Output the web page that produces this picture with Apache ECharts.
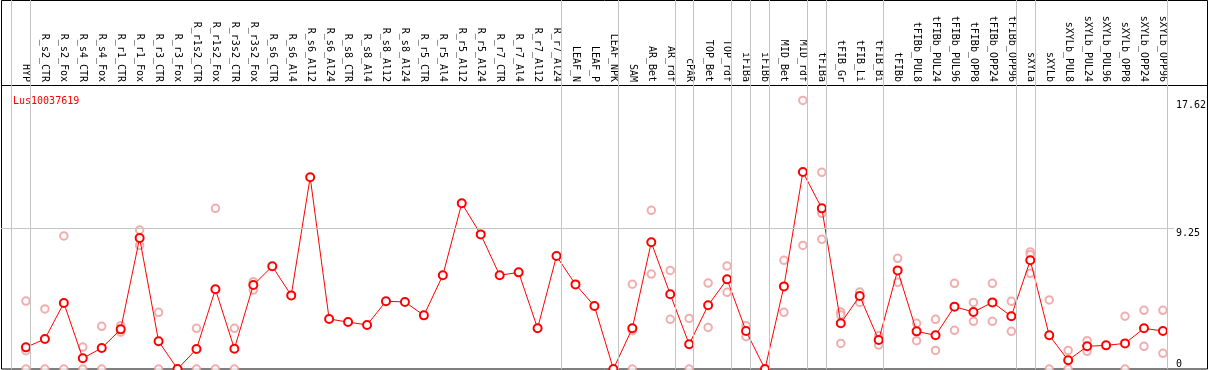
<!DOCTYPE html>
<html>
<head>
<meta charset="utf-8">
<script src="https://cdn.jsdelivr.net/npm/echarts@6/dist/echarts.min.js"></script>
<style>
html,body{margin:0;padding:0;background:#fff;}
#chart{width:1209px;height:370px;}
</style>
</head>
<body>
<div id="chart"></div>
<script>
const categories = ["HYP","R_s2_CTR","R_s2_Fox","R_s4_CTR","R_s4_Fox","R_r1_CTR","R_r1_Fox","R_r3_CTR","R_r3_Fox","R_r1s2_CTR","R_r1s2_Fox","R_r3s2_CTR","R_r3s2_Fox","R_s6_CTR","R_s6_Al4","R_s6_Al12","R_s6_Al24","R_s8_CTR","R_s8_Al4","R_s8_Al12","R_s8_Al24","R_r5_CTR","R_r5_Al4","R_r5_Al12","R_r5_Al24","R_r7_CTR","R_r7_Al4","R_r7_Al12","R_r7_Al24","LEAF_N","LEAF_P","LEAF_NPK","SAM","AR_Bet","AR_rdf","cPAR","TOP_Bet","TOP_rdf","iFIBa","iFIBb","MID_Bet","MID_rdf","tFIBa","tFIB_Gr","tFIB_Li","tFIB_Bi","tFIBb","tFIBb_PUL8","tFIBb_PUL24","tFIBb_PUL96","tFIBb_OPP8","tFIBb_OPP24","tFIBb_OPP96","sXYLa","sXYLb","sXYLb_PUL8","sXYLb_PUL24","sXYLb_PUL96","sXYLb_OPP8","sXYLb_OPP24","sXYLb_OPP96"];

const meanValues = [1.42,1.97,4.33,0.70,1.38,2.60,8.59,1.82,0,1.31,5.23,1.33,5.51,6.74,4.83,12.58,3.28,3.08,2.89,4.44,4.40,3.52,6.15,10.87,8.83,6.15,6.34,2.67,7.41,5.55,4.13,0,2.67,8.31,4.90,1.62,4.18,5.88,2.49,0,5.42,12.92,10.54,3.00,4.79,1.90,6.47,2.47,2.21,4.09,3.74,4.37,3.46,7.13,2.21,0.57,1.49,1.55,1.68,2.67,2.49];

const replicateValues = [
  [4.46,1.2,0],[3.94,0],[8.73,0],[1.44,0],[2.80,0],[2.84,2.41],[9.12,8.11],[3.72,0],[0],[2.67,0],[10.54,0],[2.67,0],[5.73,5.18],
  [],[],[],[],[],[],[],[],[],[],[],[],[],[],[],[],
  [],[],[],
  [5.56,2.51,0],[10.41,6.23],[6.47,3.26],[3.32,0],[5.64,2.73],[6.76,5.03],[2.84,2.12],[],[7.13,3.72],[17.62,8.11],
  [12.90,10.21,8.51],[3.74,3.54,1.68],[5.05,4.37],[2.19,1.57],[7.26,5.69],[3.00,1.86],[3.26,1.22],[5.62,2.54],[4.37,3.13],[5.62,3.13],[4.44,2.47],
  [7.68,7.50,6.28],[4.53,0],[1.22,0],[1.86,1.16],[],[3.46,0],[3.85,1.49],[3.85,1.03]
];

// sizes of the sample groups separated by vertical lines
const groupSizes = [1,28,3,3,1,2,1,1,2,1,3,7,1,7];
const yTickValues = [0, 9.25, 17.62];
const gridLineValue = 9.25;
const geneName = "Lus10037619";

// ---- build ----
const SEP_OFFSET = 4.5/19;
const separators = [-1 + SEP_OFFSET];
let acc = 0;
groupSizes.forEach(s => { acc += s; separators.push(acc - 1 + SEP_OFFSET); });

const mainData = meanValues.map((v,i) => [i, v]);
const repData = [];
replicateValues.forEach((arr,i) => arr.forEach(v => repData.push([i, v])));
const idx = categories.map((c,i) => i);

const xMin = -25/19, xMax = 1151/19;
const mono = "DejaVu Sans Mono";

const chart = echarts.init(document.getElementById('chart'), null, {renderer:'canvas'});
chart.setOption({
  animation: false,
  backgroundColor: '#fff',
  title: {
    text: geneName, left: 8, top: 91,
    textStyle: {color:'#ff0000', fontFamily: mono, fontSize: 10, fontWeight:'normal'}
  },
  grid: {left: 1, top: 0, width: 1176, height: 369},
  xAxis: [
    {type:'value', min:xMin, max:xMax, show:false},
    {type:'value', min:xMin, max:xMax, position:'top', offset:-85,
     axisLine:{show:false}, axisTick:{show:false}, splitLine:{show:false},
     axisLabel:{customValues: idx, rotate:90, margin:3,
       fontFamily:mono, fontSize:10, color:'#000',
       formatter: v => categories[Math.round(v)] || ''}}
  ],
  yAxis: {
    type:'value', min:0, max:24.208, position:'right',
    axisLine:{show:false}, axisTick:{show:false}, splitLine:{show:false},
    axisLabel:{customValues: yTickValues, margin:2, fontFamily:mono, fontSize:10, color:'#000',
      verticalAlign:'top', verticalAlignMinLabel:'bottom',
      formatter: v => String(v)}
  },
  graphic: [
    {type:'rect', shape:{x:1.5, y:0.5, width:1206, height:368.5}, style:{fill:'none', stroke:'#000', lineWidth:1}, silent:true},
    {type:'line', shape:{x1:1, y1:85.5, x2:1208, y2:85.5}, style:{stroke:'#000', lineWidth:1}, silent:true}
  ],
  series: [
    {
      type:'scatter', xAxisIndex:0, data: repData, symbol:'emptyCircle', symbolSize:7.5,
      itemStyle:{color:'#ee9a9a', borderColor:'#ee9a9a', borderWidth:1.3}, z:2, silent:true
    },
    {
      type:'line', xAxisIndex:0, data: mainData, symbol:'emptyCircle', symbolSize:8,
      lineStyle:{color:'#ff0000', width:1}, itemStyle:{color:'#ff0000', borderColor:'#ff0000', borderWidth:1.6},
      z:3, silent:true,
      markLine:{
        silent:true, symbol:['none','none'], label:{show:false},
        lineStyle:{color:'#c4c4c4', width:1, type:'solid'},
        data: separators.map(v => ({xAxis:v})).concat([{yAxis: gridLineValue}])
      }
    }
  ]
});
</script>
</body>
</html>
